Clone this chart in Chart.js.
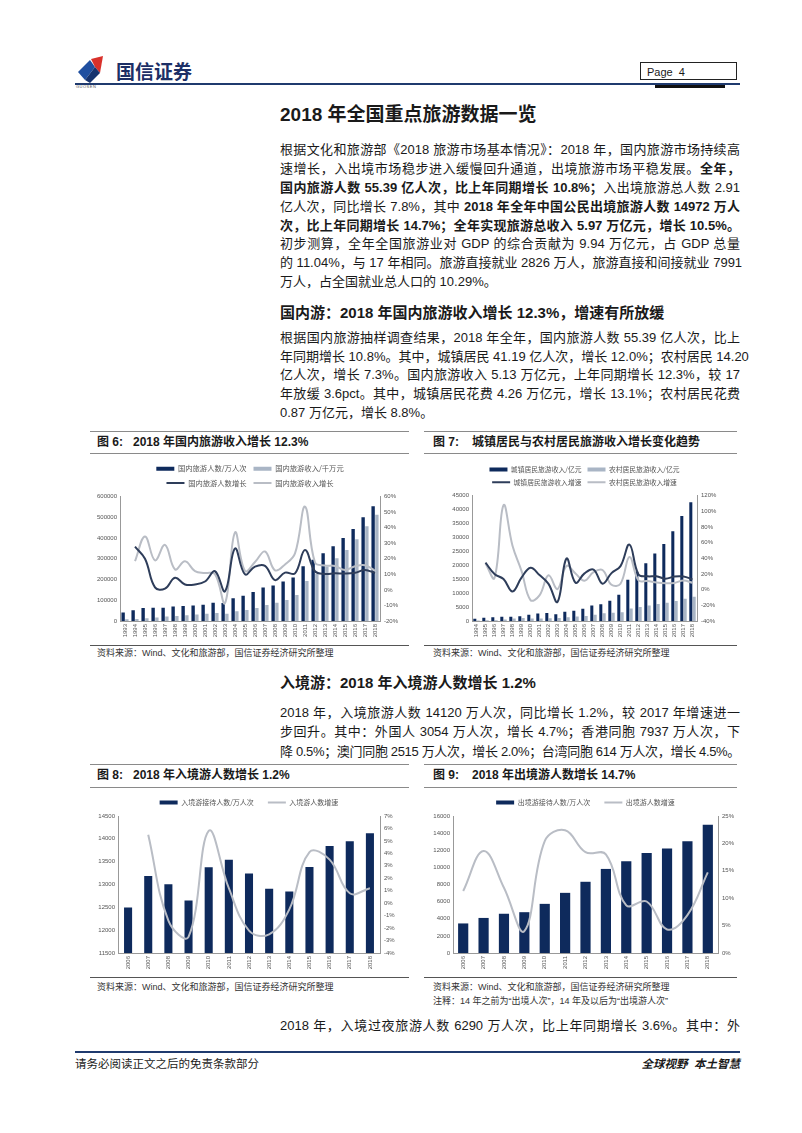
<!DOCTYPE html>
<html>
<head>
<meta charset="utf-8">
<script src="https://cdn.jsdelivr.net/npm/chart.js@4.4.0/dist/chart.umd.min.js"></script>
<style>
body{margin:0;width:802px;height:1133px;position:relative;background:#fff;overflow:hidden;
  font-family:"Liberation Sans",Arial,"Noto Sans CJK SC",sans-serif;color:#1a1a1a}
.abs{position:absolute}
.ln{position:absolute;left:280px;width:460px;font-size:13px;line-height:19px;white-space:nowrap;
  text-align:justify;text-align-last:justify}
.ln.last{text-align-last:left}
.h2{position:absolute;left:280px;font-size:15px;font-weight:bold;line-height:20px;white-space:nowrap}
.rule{position:absolute;height:1px;background:#8a8a8a}
.ft{position:absolute;font-size:12px;font-weight:bold;line-height:22px;white-space:nowrap}
.src{position:absolute;font-size:9px;line-height:12px;color:#333;white-space:nowrap}
canvas{position:absolute}
</style>
</head>
<body>

<!-- header -->
<svg class="abs" style="left:76px;top:56px" width="36" height="30" viewBox="0 0 36 30">
  <polygon points="2,16 14,4 19,11 9,24" fill="#1f4fa0"/>
  <polygon points="15,3 27,0 24,17 19,11" fill="#d9312b"/>
  <polygon points="19,11 24,17 14,27 9,24" fill="#16336e"/>
</svg>
<div class="abs" style="left:76px;top:84px;font-size:4px;color:#555;letter-spacing:0.5px">GUOSEN</div>
<div class="abs" style="left:116px;top:59px;font-size:19px;font-weight:bold;color:#1c2f66;font-family:'Noto Sans CJK SC';line-height:24px">国信证券</div>
<div class="abs" style="left:640px;top:62px;width:97px;height:18px;border:1px solid #222;font-size:11px;line-height:18px;padding-left:6px;box-sizing:border-box">Page&nbsp;&nbsp;4</div>
<div class="abs" style="left:75px;top:83px;width:665px;height:2px;background:#1f3a6e"></div>
<div class="abs" style="left:655px;top:85px;width:70px;height:3px;background:#111"></div>

<!-- title and paragraph 1 -->
<div class="abs" style="left:280px;top:103px;font-size:19px;font-weight:bold;line-height:24px;white-space:nowrap">2018 年全国重点旅游数据一览</div>
<div class="ln" style="top:140px">根据文化和旅游部《2018 旅游市场基本情况》：2018 年，国内旅游市场持续高</div>
<div class="ln" style="top:159px">速增长，入出境市场稳步进入缓慢回升通道，出境旅游市场平稳发展。<b>全年，</b></div>
<div class="ln" style="top:178px"><b>国内旅游人数 55.39 亿人次，比上年同期增长 10.8%；</b>入出境旅游总人数 2.91</div>
<div class="ln" style="top:197px">亿人次，同比增长 7.8%，其中 <b>2018 年全年中国公民出境旅游人数 14972 万人</b></div>
<div class="ln" style="top:216px"><b>次，比上年同期增长 14.7%；全年实现旅游总收入 5.97 万亿元，增长 10.5%。</b></div>
<div class="ln" style="top:234px">初步测算，全年全国旅游业对 GDP 的综合贡献为 9.94 万亿元，占 GDP 总量</div>
<div class="ln" style="top:253px">的 11.04%，与 17 年相同。旅游直接就业 2826 万人，旅游直接和间接就业 7991</div>
<div class="ln last" style="top:272px">万人，占全国就业总人口的 10.29%。</div>

<!-- section 2 -->
<div class="h2" style="top:303px">国内游：2018 年国内旅游收入增长 12.3%，增速有所放缓</div>
<div class="ln" style="top:328px">根据国内旅游抽样调查结果，2018 年全年，国内旅游人数 55.39 亿人次，比上</div>
<div class="ln" style="top:347px">年同期增长 10.8%。其中，城镇居民 41.19 亿人次，增长 12.0%；农村居民 14.20</div>
<div class="ln" style="top:365px">亿人次，增长 7.3%。国内旅游收入 5.13 万亿元，上年同期增长 12.3%，较 17</div>
<div class="ln" style="top:384px">年放缓 3.6pct。其中，城镇居民花费 4.26 万亿元，增长 13.1%；农村居民花费</div>
<div class="ln last" style="top:403px">0.87 万亿元，增长 8.8%。</div>

<!-- fig 6 / fig 7 frames -->
<div class="rule" style="left:90px;top:431px;width:319px"></div>
<div class="rule" style="left:90px;top:453px;width:319px"></div>
<div class="ft" style="left:97px;top:431px">图 6:</div>
<div class="ft" style="left:133px;top:431px">2018 年国内旅游收入增长 12.3%</div>
<div class="rule" style="left:424px;top:431px;width:313px"></div>
<div class="rule" style="left:424px;top:453px;width:313px"></div>
<div class="ft" style="left:433px;top:431px">图 7:</div>
<div class="ft" style="left:472px;top:431px">城镇居民与农村居民旅游收入增长变化趋势</div>
<canvas id="fig6" width="310" height="185" style="left:95px;top:458px"></canvas>
<canvas id="fig7" width="280" height="183" style="left:440px;top:460px"></canvas>
<div class="rule" style="left:90px;top:645px;width:319px;background:#555"></div>
<div class="rule" style="left:424px;top:645px;width:313px;background:#555"></div>
<div class="src" style="left:97px;top:647px">资料来源：Wind、文化和旅游部，国信证券经济研究所整理</div>
<div class="src" style="left:433px;top:647px">资料来源：Wind、文化和旅游部，国信证券经济研究所整理</div>

<!-- section 3 -->
<div class="h2" style="top:673px">入境游：2018 年入境游人数增长 1.2%</div>
<div class="ln" style="top:703px">2018 年，入境旅游人数 14120 万人次，同比增长 1.2%，较 2017 年增速进一</div>
<div class="ln" style="top:722px">步回升。其中：外国人 3054 万人次，增长 4.7%；香港同胞 7937 万人次，下</div>
<div class="ln" style="top:742px;letter-spacing:-0.35px">降 0.5%；澳门同胞 2515 万人次，增长 2.0%；台湾同胞 614 万人次，增长 4.5%。</div>

<!-- fig 8 / fig 9 frames -->
<div class="rule" style="left:90px;top:764px;width:319px"></div>
<div class="rule" style="left:90px;top:787px;width:319px"></div>
<div class="ft" style="left:97px;top:764px">图 8:</div>
<div class="ft" style="left:133px;top:764px">2018 年入境游人数增长 1.2%</div>
<div class="rule" style="left:424px;top:764px;width:313px"></div>
<div class="rule" style="left:424px;top:787px;width:313px"></div>
<div class="ft" style="left:433px;top:764px">图 9:</div>
<div class="ft" style="left:472px;top:764px">2018 年出境游人数增长 14.7%</div>
<canvas id="fig8" width="310" height="190" style="left:95px;top:785px"></canvas>
<canvas id="fig9" width="312" height="190" style="left:428px;top:785px"></canvas>
<div class="rule" style="left:90px;top:977px;width:319px;background:#555"></div>
<div class="rule" style="left:424px;top:977px;width:313px;background:#555"></div>
<div class="src" style="left:97px;top:981px">资料来源：Wind、文化和旅游部，国信证券经济研究所整理</div>
<div class="src" style="left:433px;top:981px">资料来源：Wind、文化和旅游部，国信证券经济研究所整理</div>
<div class="src" style="left:433px;top:995px">注释：14 年之前为“出境人次”，14 年及以后为“出境游人次”</div>

<div class="ln" style="top:1016px">2018 年，入境过夜旅游人数 6290 万人次，比上年同期增长 3.6%。其中：外</div>

<!-- footer -->
<div class="abs" style="left:75px;top:1051px;width:665px;height:2px;background:#1f3a6e"></div>
<div class="abs" style="left:75px;top:1057px;font-size:11.5px;line-height:15px;white-space:nowrap">请务必阅读正文之后的免责条款部分</div>
<div class="abs" style="left:600px;width:140px;top:1057px;font-size:11.5px;line-height:15px;font-weight:bold;font-style:italic;text-align:right;white-space:nowrap">全球视野&nbsp;&nbsp;本土智慧</div>

<script>
// fig 6: domestic tourism, 1993-2018
const years6 = ['1993','1994','1995','1996','1997','1998','1999','2000','2001','2002','2003','2004','2005',
  '2006','2007','2008','2009','2010','2011','2012','2013','2014','2015','2016','2017','2018'];
const domesticTrips = [41000,52400,62900,63900,64400,69450,71900,74400,78400,87800,87000,110200,121200,
  139400,161000,171200,190200,210300,264100,295700,326200,361100,400000,444000,500100,553900];
const domesticRevenue = [8640,10240,13760,16380,21130,23910,28320,31760,35220,38780,34420,47110,52860,
  62300,77710,87490,101840,125800,193050,227060,262760,303120,341950,393900,456610,512780];
const tripsGrowth = [null,27.8,20.0,1.6,0.8,7.8,3.5,3.5,5.4,12.0,-0.9,26.6,10.0,
  15.0,15.5,6.3,11.1,10.6,25.6,12.0,10.3,10.7,10.5,11.0,12.8,10.8];
const revenueGrowth = [null,18.5,34.4,19.0,29.0,13.2,18.4,12.1,10.9,10.1,-8.5,36.9,12.2,
  17.9,24.7,12.6,16.4,23.5,53.5,17.6,15.7,15.4,12.8,15.2,15.9,12.3];

// fig 7: urban vs rural tourism revenue, 1994-2018
const years7 = ['1994','1995','1996','1997','1998','1999','2000','2001','2002','2003','2004','2005','2006',
  '2007','2008','2009','2010','2011','2012','2013','2014','2015','2016','2017','2018'];
const urbanRevenue = [848,1140,1368,1552,1516,1748,2236,2651,2848,2404,3359,3657,4415,
  5551,5971,7233,9404,14809,17678,20692,24220,27611,32241,37673,42590];
const ruralRevenue = [176,235,270,561,875,1084,940,871,1030,1038,1352,1629,1815,
  2220,2778,2951,3176,4496,5028,5584,6092,6584,7149,7988,8688];
const urbanGrowth = [null,34.4,20.0,13.5,-2.3,15.3,27.9,18.6,7.4,-15.6,39.7,8.9,20.7,
  25.7,7.6,21.1,30.0,57.5,19.4,17.0,17.0,14.0,16.8,16.8,13.1];
const ruralGrowth = [null,33.5,14.9,107.8,56.0,23.9,-13.3,-7.3,18.3,0.8,30.2,20.5,11.4,
  22.3,25.1,6.2,7.6,41.6,11.8,11.1,9.1,8.1,8.6,11.7,8.8];

// fig 8 / fig 9: inbound and outbound, 2006-2018
const years89 = ['2006','2007','2008','2009','2010','2011','2012','2013','2014','2015','2016','2017','2018'];
const inbound = [12494,13187,13003,12648,13376,13542,13241,12908,12849,13382,13844,13948,14120];
const inboundGrowth = [null,5.5,-1.4,-2.7,5.8,1.2,-2.2,-2.5,-0.5,4.1,3.5,0.8,1.2];
const outbound = [3452,4095,4584,4766,5739,7025,8318,9819,10728,11689,12203,13051,14972];
const outboundGrowth = [11.3,18.6,11.9,4.0,20.4,22.4,18.4,18.0,8.7,9.4,4.3,6.9,14.7];

const navy = '#0e2a5c', greyBar = '#a9b5c5', darkLine = '#2e3d5a', greyLine = '#b9bdc5';
const tickFont = {family: "'Liberation Sans', Arial, sans-serif", size: 6};

function bar(label, data, color, cat, pct) {
  return {type: 'bar', label, data, backgroundColor: color, yAxisID: 'y', order: 1,
    categoryPercentage: cat, barPercentage: pct};
}
function line(label, data, color) {
  return {type: 'line', label, data, borderColor: color, backgroundColor: color, borderWidth: 2,
    pointRadius: 0, tension: 0.4, yAxisID: 'y1', order: 0};
}

function makeChart(id, labels, datasets, s) {
  return new Chart(document.getElementById(id), {
    data: {labels, datasets},
    options: {
      responsive: false,
      animation: false,
      layout: {padding: 0},
      plugins: {
        tooltip: {enabled: false},
        legend: {
          position: 'top',
          fullSize: false,
          labels: {
            usePointStyle: true, pointStyleWidth: 18, boxHeight: 4,
            padding: s.legendPad,
            color: '#555',
            font: {family: "'Noto Sans CJK SC', sans-serif", size: s.legendFont},
            generateLabels(chart) {
              const items = Chart.defaults.plugins.legend.labels.generateLabels(chart);
              items.forEach(it => {
                it.pointStyle = chart.data.datasets[it.datasetIndex].type === 'line' ? 'line' : 'rect';
              });
              return items.sort((a, b) => a.datasetIndex - b.datasetIndex);
            }
          }
        }
      },
      scales: {
        x: {
          grid: {display: false, drawTicks: false},
          border: {color: '#999'},
          ticks: {font: tickFont, color: '#555', minRotation: 90, maxRotation: 90, autoSkip: false, padding: 3},
          afterFit: sc => { sc.height = 22; }
        },
        y: {
          position: 'left', min: s.yMin, max: s.yMax,
          grid: {display: false, drawTicks: false},
          border: {color: '#999'},
          ticks: {stepSize: s.yStep, font: tickFont, color: '#555', padding: 3, callback: v => String(v)},
          afterFit: sc => { sc.width = s.leftW; }
        },
        y1: {
          position: 'right', min: s.rMin, max: s.rMax,
          grid: {display: false, drawTicks: false},
          border: {color: '#999'},
          ticks: {stepSize: s.rStep, font: tickFont, color: '#555', padding: 4, callback: v => v + '%'},
          afterFit: sc => { sc.width = s.rightW; }
        }
      }
    }
  });
}

makeChart('fig6', years6, [
  bar('国内旅游人数/万人次', domesticTrips, navy, 0.75, 0.9),
  bar('国内旅游收入/千万元', domesticRevenue, greyBar, 0.75, 0.9),
  line('国内旅游人数增长', tripsGrowth, darkLine),
  line('国内旅游收入增长', revenueGrowth, greyLine)
], {yMin: 0, yMax: 600000, yStep: 100000, rMin: -20, rMax: 60, rStep: 10,
    leftW: 25, rightW: 25, legendPad: 7, legendFont: 7.3});

makeChart('fig7', years7, [
  bar('城镇居民旅游收入/亿元', urbanRevenue, navy, 0.75, 0.9),
  bar('农村居民旅游收入/亿元', ruralRevenue, greyBar, 0.75, 0.9),
  line('城镇居民旅游收入增速', urbanGrowth, darkLine),
  line('农村居民旅游收入增速', ruralGrowth, greyLine)
], {yMin: 0, yMax: 45000, yStep: 5000, rMin: -40, rMax: 120, rStep: 20,
    leftW: 32, rightW: 23, legendPad: 6, legendFont: 6.8});

makeChart('fig8', years89, [
  bar('入境游接待人数/万人次', inbound, navy, 0.4, 1),
  line('入境游人数增速', inboundGrowth, greyLine)
], {yMin: 11500, yMax: 14500, yStep: 500, rMin: -4, rMax: 7, rStep: 1,
    leftW: 23, rightW: 25, legendPad: 14, legendFont: 7});

makeChart('fig9', years89, [
  bar('出境游接待人数/万人次', outbound, navy, 0.5, 1),
  line('出境游人数增速', outboundGrowth, greyLine)
], {yMin: 0, yMax: 16000, yStep: 2000, rMin: 0, rMax: 25, rStep: 5,
    leftW: 25, rightW: 22, legendPad: 14, legendFont: 7});
</script>
</body>
</html>
